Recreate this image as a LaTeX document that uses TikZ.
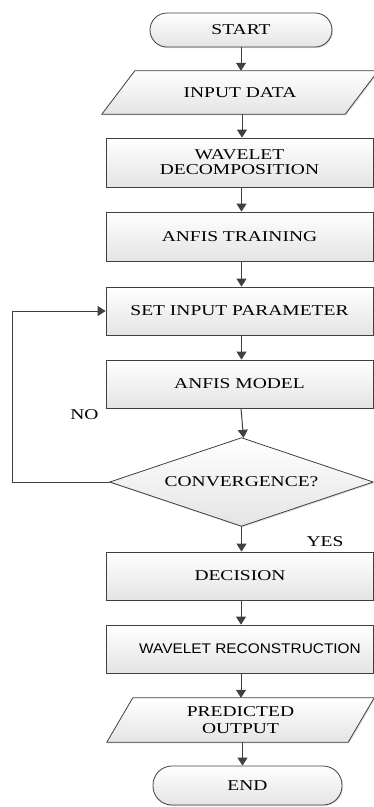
\documentclass[tikz,border=0pt]{standalone}
\usepackage{fontspec}
\setmainfont{Liberation Serif}
\newfontfamily\wfont[FakeStretch=1.3]{Liberation Serif}
\newfontfamily\gfont[FakeStretch=1.1]{Liberation Sans}
\usetikzlibrary{arrows.meta,shadows}
\definecolor{linec}{HTML}{404040}
\definecolor{fillb}{HTML}{E4E4E4}
\pgfdeclarelayer{bg}
\pgfsetlayers{bg,main}
\begin{document}
\begin{tikzpicture}[x=1pt,y=-1pt,
  txt/.style={font=\wfont\fontsize{15}{15}\selectfont, text=black, align=center, inner sep=0pt},
  shadedfill/.style={draw=linec, line width=0.8pt, top color=white, bottom color=fillb,
     drop shadow={shadow xshift=1pt, shadow yshift=-1.2pt, opacity=0.25}},
  box/.style={txt, shadedfill, minimum width=267pt, minimum height=49pt},
  term/.style={txt, shadedfill, rounded corners=17pt},
  plain/.style={txt, minimum height=43pt},
  arr/.style={draw=linec, line width=1pt, -{Triangle[width=10pt,length=8pt]}},
  lbl/.style={font=\wfont\fontsize{15}{15}\selectfont, inner sep=0pt}
]
\useasboundingbox (0,0) rectangle (374,807);

\node[term, minimum width=182pt, minimum height=34pt] (start) at (241,30) {START};
\node[plain, minimum width=243pt] (input) at (240,92.5) {INPUT DATA};
\node[box] (wd) at (239.5,162.5) {WAVELET\\DECOMPOSITION};
\node[box] (at) at (239.5,236.5) {ANFIS TRAINING};
\node[box, minimum height=48pt] (set) at (239.5,311) {SET INPUT PARAMETER};
\node[box, minimum height=48pt] (am) at (239.5,384) {ANFIS MODEL};
\node[txt, minimum width=263pt, minimum height=88pt] (conv) at (241.5,482) {CONVERGENCE?};
\node[box, minimum height=48pt] (dec) at (240,576) {DECISION};
\node[box, minimum height=48pt, font=\gfont\fontsize{14}{14}\selectfont] (wr) at (240,649) {\hspace*{20pt}WAVELET RECONSTRUCTION};
\node[plain, minimum width=241pt, minimum height=44pt, font=\wfont\fontsize{15}{16.5}\selectfont] (po) at (240.5,720) {PREDICTED\\OUTPUT};
\node[term, minimum width=189pt, minimum height=39pt, rounded corners=19pt] (end) at (247.5,785.5) {END};

\begin{pgfonlayer}{bg}
\path[shadedfill] ([xshift=16.5pt]input.north west) -- ([xshift=16.5pt]input.north east)
   -- ([xshift=-16.5pt]input.south east) -- ([xshift=-16.5pt]input.south west) -- cycle;
\path[shadedfill] ([xshift=13pt]po.north west) -- ([xshift=13pt]po.north east)
   -- ([xshift=-13pt]po.south east) -- ([xshift=-13pt]po.south west) -- cycle;
\path[shadedfill] (conv.west) -- (conv.north) -- (conv.east) -- (conv.south) -- cycle;
\end{pgfonlayer}

\node[lbl] (no) at (84.5,415) {NO};
\node[lbl] (yes) at (325,542) {YES};

\coordinate (lp) at (12,482);

\draw[arr] (start.south) -- (start.south |- input.north);
\draw[arr] ([xshift=2pt]input.south) -- ([xshift=2pt]input.south |- wd.north);
\draw[arr] ([xshift=2pt]wd.south) -- ([xshift=2pt]wd.south |- at.north);
\draw[arr] ([xshift=2pt]at.south) -- ([xshift=2pt]at.south |- set.north);
\draw[arr] ([xshift=2pt]set.south) -- ([xshift=2pt]set.south |- am.north);
\draw[arr] ([xshift=1.5pt]am.south) -- ([xshift=2pt]conv.north);
\draw[arr] (conv.south) -- (conv.south |- dec.north);
\draw[arr] ([xshift=1pt]dec.south) -- ([xshift=1pt]dec.south |- wr.north);
\draw[arr] ([xshift=1pt]wr.south) -- ([xshift=1pt]wr.south |- po.north);
\draw[arr] ([xshift=2pt]po.south) -- ([xshift=2pt]po.south |- end.north);
\draw[arr] (conv.west) -- (lp) |- (set.west);
\end{tikzpicture}
\end{document}
